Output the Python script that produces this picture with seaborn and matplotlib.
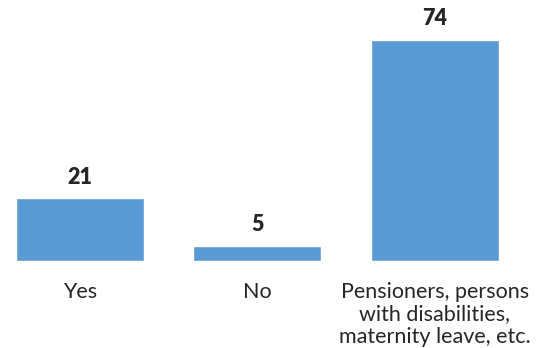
import matplotlib
matplotlib.use("Agg")
import matplotlib.pyplot as plt
import seaborn as sns
import pandas as pd

categories = ["Yes", "No", "Pensioners, persons\nwith disabilities,\nmaternity leave, etc."]
values = [21, 5, 74]

sns.set_theme(style="white")
plt.rcParams['font.family'] = ['Lato', 'DejaVu Sans']

df = pd.DataFrame({"cat": categories, "val": values})

fig = plt.figure(figsize=(5.37, 3.48), dpi=100)
ax = fig.add_axes([0, 0.25, 1, 0.75])
sns.barplot(data=df, x="cat", y="val", color="#5B9BD5", saturation=1, width=0.72, ax=ax)
ax.set_xlim(-0.451, 2.577)
ax.set_ylim(0, 87.4)
for i, v in enumerate(values):
    ax.text(i, v + 4.9, str(v), ha="center", va="baseline", fontsize=15.5,
            fontweight="heavy", color="#262626")
ax.set_xlabel("")
ax.set_ylabel("")
ax.set_yticks([])
ax.tick_params(axis="x", length=0, pad=15, labelsize=15.5, labelcolor="#262626")
for lbl in ax.get_xticklabels():
    lbl.set_linespacing(1.15)
    lbl.set_verticalalignment("top")
for s in ax.spines.values():
    s.set_visible(False)
fig.savefig("out.png", dpi=100)
